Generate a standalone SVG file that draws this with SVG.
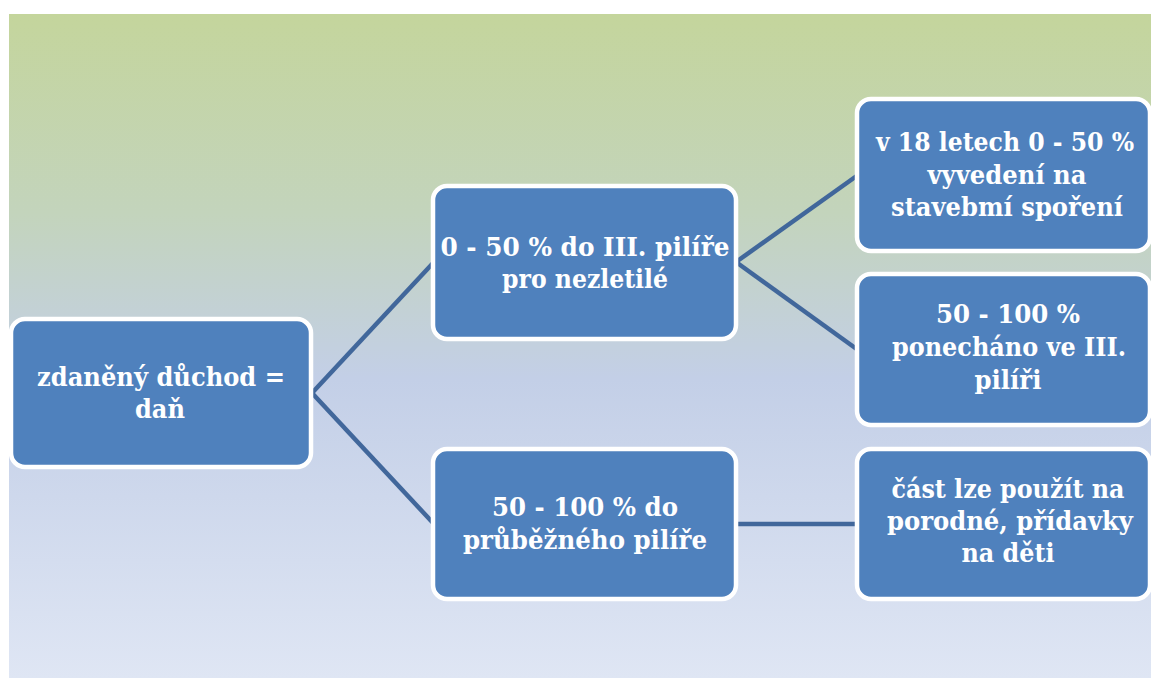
<svg xmlns="http://www.w3.org/2000/svg" width="1151" height="678" viewBox="0 0 1151 678">
<defs>
<linearGradient id="bg" x1="0" y1="0" x2="0" y2="1">
<stop offset="0" stop-color="#c4d59c"/>
<stop offset="0.3" stop-color="#c3d4bc"/>
<stop offset="0.55" stop-color="#c3cfe7"/>
<stop offset="1" stop-color="#dfe6f4"/>
</linearGradient>
<style>
.box{fill:#4f81bd;stroke:#ffffff;stroke-width:4.5}
.t{font-family:"DejaVu Serif","Liberation Serif",serif;font-weight:bold;font-size:26px;fill:#ffffff;text-anchor:middle}
.c{stroke:#41679b;stroke-width:4.5;fill:none}
</style>
</defs>
<rect x="0" y="0" width="1151" height="678" fill="#ffffff"/>
<rect x="9" y="14" width="1142" height="664" fill="url(#bg)"/>
<g id="connectors">
<path class="c" d="M312,393 L434,262"/>
<path class="c" d="M312,393 L434,524"/>
<path class="c" d="M736,262 L858,175"/>
<path class="c" d="M736,262 L858,350"/>
<path class="c" d="M736,524 L858,524"/>
</g>
<g id="n1">
<rect class="box" x="11" y="319" width="300" height="148" rx="14"/>
<text class="t" x="161" y="386" textLength="248" lengthAdjust="spacingAndGlyphs">zdaněný důchod =</text>
<text class="t" x="160" y="418" textLength="50" lengthAdjust="spacingAndGlyphs">daň</text>
</g>
<g id="n2">
<rect class="box" x="433" y="186" width="303" height="153" rx="14"/>
<text class="t" x="585" y="256" textLength="289" lengthAdjust="spacingAndGlyphs">0 - 50 % do III. pilíře</text>
<text class="t" x="585" y="288" textLength="166" lengthAdjust="spacingAndGlyphs">pro nezletilé</text>
</g>
<g id="n3">
<rect class="box" x="857" y="99" width="293" height="152" rx="14"/>
<text class="t" x="1005" y="151" textLength="258" lengthAdjust="spacingAndGlyphs">v 18 letech 0 - 50 %</text>
<text class="t" x="1007" y="184" textLength="159" lengthAdjust="spacingAndGlyphs">vyvedení na</text>
<text class="t" x="1007" y="216" textLength="232" lengthAdjust="spacingAndGlyphs">stavebmí spoření</text>
</g>
<g id="n4">
<rect class="box" x="857" y="274" width="293" height="151" rx="14"/>
<text class="t" x="1008" y="323" textLength="144" lengthAdjust="spacingAndGlyphs">50 - 100 %</text>
<text class="t" x="1009" y="356" textLength="234" lengthAdjust="spacingAndGlyphs">ponecháno ve III.</text>
<text class="t" x="1008" y="389" textLength="67" lengthAdjust="spacingAndGlyphs">pilíři</text>
</g>
<g id="n5">
<rect class="box" x="433" y="449" width="303" height="150" rx="14"/>
<text class="t" x="585" y="516" textLength="186" lengthAdjust="spacingAndGlyphs">50 - 100 % do</text>
<text class="t" x="585" y="549" textLength="244" lengthAdjust="spacingAndGlyphs">průběžného pilíře</text>
</g>
<g id="n6">
<rect class="box" x="857" y="449" width="293" height="150" rx="14"/>
<text class="t" x="1008" y="498" textLength="233" lengthAdjust="spacingAndGlyphs">část lze použít na</text>
<text class="t" x="1010" y="530" textLength="246" lengthAdjust="spacingAndGlyphs">porodné, přídavky</text>
<text class="t" x="1008" y="562" textLength="93" lengthAdjust="spacingAndGlyphs">na děti</text>
</g>
</svg>
